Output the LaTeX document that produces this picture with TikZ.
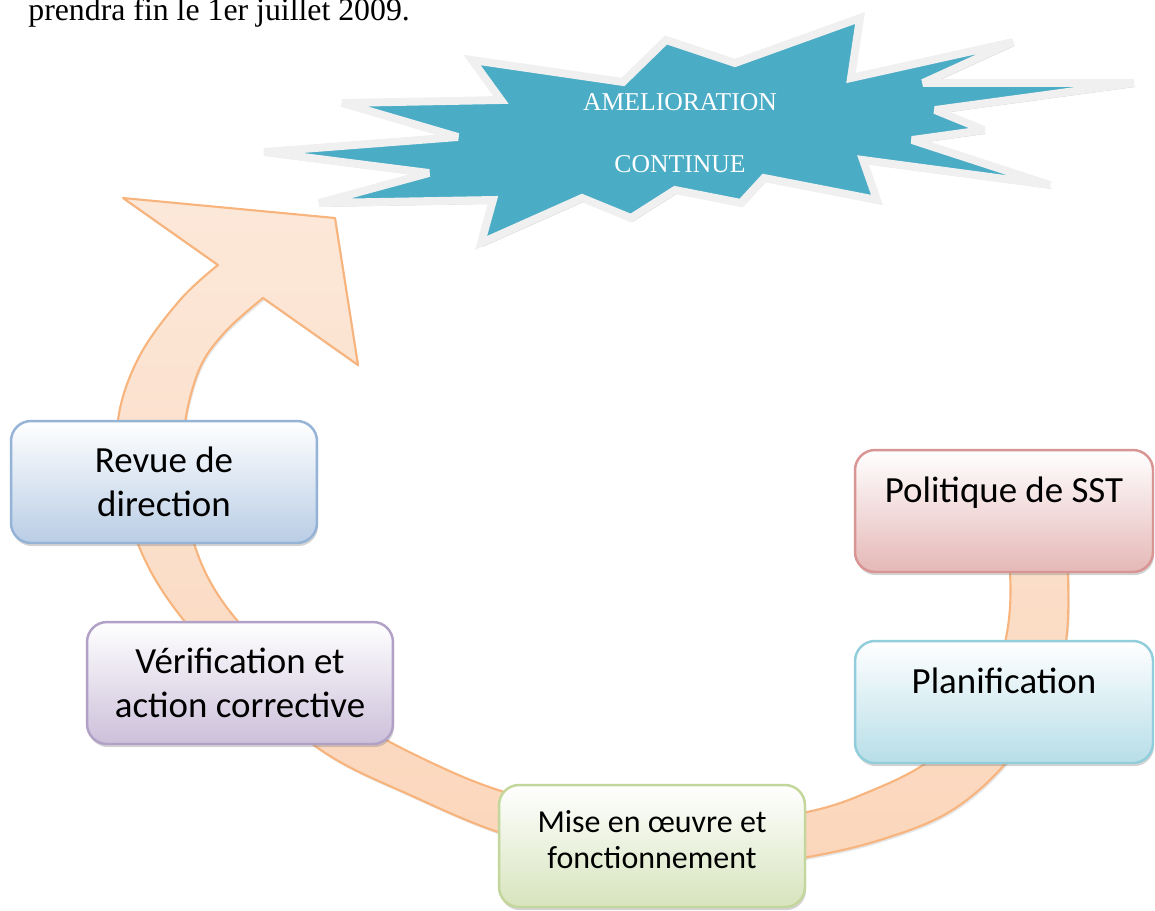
\documentclass[tikz,border=0pt]{standalone}
\usepackage{fontspec}
\setmainfont{Carlito}
\newfontfamily\timesfont{Liberation Serif}
\usetikzlibrary{shadows}
\definecolor{revueline}{RGB}{149,179,215}
\definecolor{revuefill}{RGB}{185,205,229}
\definecolor{polline}{RGB}{217,149,148}
\definecolor{polfill}{RGB}{229,184,183}
\definecolor{planline}{RGB}{146,205,220}
\definecolor{planfill}{RGB}{183,222,232}
\definecolor{verifline}{RGB}{178,161,199}
\definecolor{veriffill}{RGB}{204,192,218}
\definecolor{miseline}{RGB}{195,214,155}
\definecolor{misefill}{RGB}{215,228,189}
\definecolor{arctop}{RGB}{252,232,217}
\definecolor{arcbottom}{RGB}{251,214,187}
\definecolor{arcline}{RGB}{248,180,125}
\definecolor{starfill}{RGB}{75,172,198}
\definecolor{starline}{RGB}{240,240,240}
\tikzset{
  phasebox/.style={rounded corners=0.4cm, line width=1.4pt, minimum width=#1, minimum height=2.44cm, inner sep=2pt, align=center, font=\fontsize{21}{25}\selectfont, drop shadow={shadow xshift=0.6pt, shadow yshift=-1.8pt, opacity=0.35}},
  phasebox/.default=6.12cm,
  oneline/.style={text depth=24pt},
  bluebox/.style={draw=revueline, top color=white, bottom color=revuefill},
  redbox/.style={draw=polline, top color=white, bottom color=polfill},
  cyanbox/.style={draw=planline, top color=white, bottom color=planfill},
  purplebox/.style={draw=verifline, top color=white, bottom color=veriffill},
  greenbox/.style={draw=miseline, top color=white, bottom color=misefill},
  cyclearrow/.style={draw=arcline, line width=1.2pt, line join=round, top color=arctop, bottom color=arcbottom, drop shadow={shadow xshift=0.8pt, shadow yshift=-1.4pt, opacity=0.2}},
  burst/.style={draw=starline, fill=starfill, line width=4.5pt, line join=miter, miter limit=3, drop shadow={shadow xshift=1pt, shadow yshift=-2.2pt, fill=gray!70, opacity=0.6}},
  bursttext/.style={text=white, align=center, font=\timesfont\fontsize{14.6}{35.3}\selectfont}
}
\begin{document}
\begin{tikzpicture}[x=0.02cm, y=-0.02cm]
\useasboundingbox (0,0) rectangle (1155,910);
\node[anchor=base west, inner sep=0pt, font=\timesfont\fontsize{18.1}{22}\selectfont] (note) at (28,20) {prendra fin le 1er juillet 2009.};
% circular arrow
\draw[cyclearrow] plot[smooth, tension=0.6] coordinates {(1060,470) (1068,570) (1062,660) (1020,745) (957,807) (880,840) (790,860) (700,868) (600,860) (498,832) (410,795) (330,756) (262,702) (200,640) (150,570) (121,490) (118,420) (139,357) (180,300) (218,265)}
  -- (123,198) -- (335,218) -- (358,365) -- (263,298)
  -- plot[smooth, tension=0.6] coordinates {(263,298) (225,332) (199,370) (184,430) (185,490) (194,543) (215,590) (250,635) (300,682) (360,725) (430,762) (498,790) (590,815) (700,826) (807,812) (873,790) (930,760) (975,712) (1000,660) (1010,607) (1008,540) (1000,470)} -- cycle;
% star
\draw[burst] (472,60) -- (623,82) -- (666,40) -- (735,63) -- (860,18) -- (851,78) -- (1013,42) -- (923,83) -- (1134,83) -- (935,110) -- (984,130) -- (912,140) -- (1050,185) -- (863,160) -- (877,200) -- (764,178) -- (741,203) -- (675,190) -- (631,218) -- (582,198) -- (481,243) -- (493,200) -- (319,203) -- (429,173) -- (264,152) -- (458,137) -- (342,103) -- (501,100) -- cycle;
\node[bursttext] (amel) at (680,133) {AMELIORATION\\CONTINUE};
% phases
\node[phasebox, bluebox] (rev) at (164,482) {Revue de\\direction};
\node[phasebox=5.96cm, redbox, oneline] (pol) at (1004,511) {Politique de SST};
\node[phasebox=5.96cm, cyanbox, oneline] (plan) at (1004,702) {Planification};
\node[phasebox, purplebox] (ver) at (240,683) {Vérification et\\action corrective};
\node[phasebox, greenbox, text depth=7pt, font=\fontsize{18.2}{20.5}\selectfont] (mise) at (652,846) {Mise en œuvre et\\fonctionnement};
\end{tikzpicture}
\end{document}
